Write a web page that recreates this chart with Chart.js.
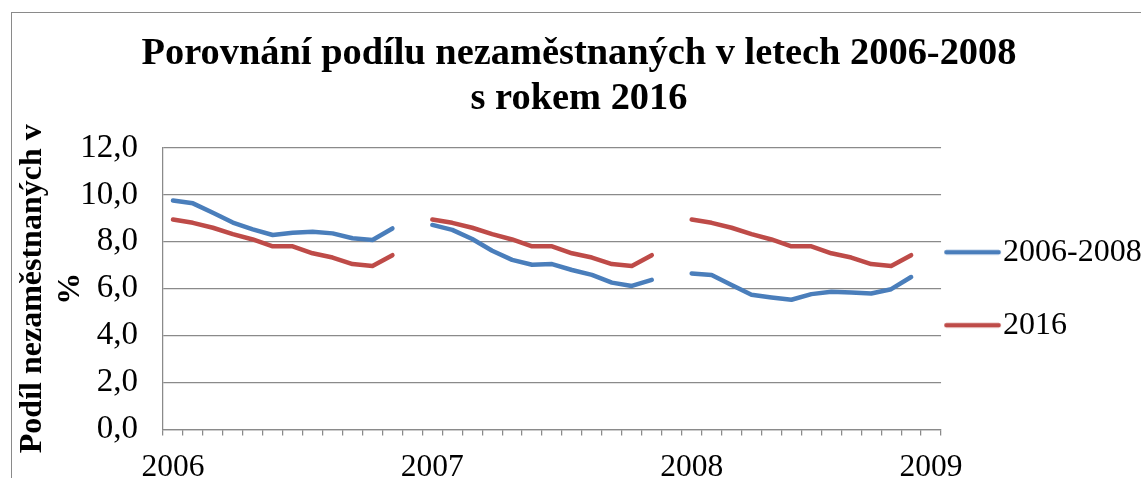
<!DOCTYPE html>
<html>
<head>
<meta charset="utf-8">
<script src="https://cdn.jsdelivr.net/npm/chart.js@4.4.1/dist/chart.umd.min.js"></script>
<style>
html, body { margin: 0; padding: 0; background: #ffffff; overflow: hidden; }
#frame { position: absolute; left: 11px; top: 12px; width: 1300px; height: 600px;
         border-left: 1px solid #8a8a8a; border-top: 1px solid #8a8a8a; }
#wrap { position: absolute; left: 0; top: 0; width: 1141px; height: 478px; }
</style>
</head>
<body>
<div id="frame"></div>
<div id="wrap"><canvas id="c" width="1141" height="478"></canvas></div>
<script>
// ---- data ----
const categories = [
  '2006', '', '', '', '', '', '', '', '', '', '', '', '',
  '2007', '', '', '', '', '', '', '', '', '', '', '', '',
  '2008', '', '', '', '', '', '', '', '', '', '', '',
  '2009'
];
const seriesNames = ['2006-2008', '2016'];
const rate2006 = [9.76, 9.64, 9.24, 8.82, 8.53, 8.29, 8.39, 8.43, 8.36, 8.15, 8.08, 8.57];
const rate2007 = [8.72, 8.51, 8.12, 7.62, 7.23, 7.02, 7.05, 6.80, 6.59, 6.26, 6.12, 6.38];
const rate2008 = [6.65, 6.59, 6.16, 5.74, 5.63, 5.53, 5.77, 5.87, 5.84, 5.80, 5.98, 6.50];
const rate2016 = [8.95, 8.81, 8.60, 8.33, 8.10, 7.81, 7.81, 7.51, 7.33, 7.05, 6.97, 7.43];
const yTickLabels = ['0,0', '2,0', '4,0', '6,0', '8,0', '10,0', '12,0'];
const titleLines = ['Porovnání podílu nezaměstnaných v letech 2006-2008', 's rokem 2016'];
const yTitleLines = ['Podíl nezaměstnaných v', '%'];

// one empty slot separates the years
const blueSeries = [...rate2006, null, ...rate2007, null, ...rate2008, null];
const redSeries  = [...rate2016, null, ...rate2016, null, ...rate2016, null];

const BLUE = '#4A7EBB';
const RED = '#BE4B48';
const GRID = '#8a8a8a';
const SERIF = "'Liberation Serif', 'Times New Roman', serif";

// legend line sample (drawn on the left part of a small canvas)
function lineSample(color) {
  const cv = document.createElement('canvas');
  cv.width = 81; cv.height = 8;
  const g = cv.getContext('2d');
  g.strokeStyle = color;
  g.lineWidth = 4.5;
  g.lineCap = 'round';
  g.beginPath();
  g.moveTo(2.4, 4);
  g.lineTo(54.6, 4);
  g.stroke();
  return cv;
}

new Chart(document.getElementById('c'), {
  type: 'line',
  data: {
    labels: categories,
    datasets: [
      { label: seriesNames[0], data: blueSeries, borderColor: BLUE, backgroundColor: BLUE,
        borderWidth: 4.5, pointRadius: 0, tension: 0, spanGaps: false,
        borderCapStyle: 'round', borderJoinStyle: 'round' },
      { label: seriesNames[1], data: redSeries, borderColor: RED, backgroundColor: RED,
        borderWidth: 4.5, pointRadius: 0, tension: 0, spanGaps: false,
        borderCapStyle: 'round', borderJoinStyle: 'round' }
    ]
  },
  options: {
    responsive: false,
    animation: false,
    events: [],
    layout: { padding: { left: 6.3, right: -10.7, top: 0, bottom: 0 } },
    plugins: {
      tooltip: { enabled: false },
      title: {
        display: true,
        text: titleLines,
        color: '#000',
        font: { family: SERIF, size: 38.4, weight: 'bold', lineHeight: 1.165 },
        padding: { top: 31.5, bottom: 27 }
      },
      legend: {
        position: 'right',
        align: 'center',
        fullSize: false,
        labels: {
          color: '#000',
          font: { family: SERIF, size: 32 },
          usePointStyle: true,
          pointStyleWidth: 5,
          padding: 41,
          generateLabels(chart) {
            const items = Chart.defaults.plugins.legend.labels.generateLabels(chart);
            items.forEach(it => { it.pointStyle = lineSample(it.strokeStyle); });
            return items;
          }
        }
      }
    },
    scales: {
      x: {
        type: 'category',
        offset: true,
        grid: { display: true, offset: true, drawOnChartArea: false, drawTicks: true,
                tickLength: 6, color: GRID, lineWidth: 1.25 },
        border: { display: true, color: GRID, width: 1.25 },
        ticks: { autoSkip: false, maxRotation: 0, minRotation: 0, padding: 13,
                 color: '#000', font: { family: SERIF, size: 31.5 } },
        afterFit(s) { s.height = 48.5; }
      },
      y: {
        min: 0, max: 12,
        grid: { drawTicks: false, color: GRID, lineWidth: 1.25 },
        border: { display: true, color: GRID, width: 1.25 },
        ticks: { stepSize: 2, padding: 25, color: '#000',
                 font: { family: SERIF, size: 33 },
                 callback: (v, i) => yTickLabels[i] },
        title: { display: true, text: yTitleLines, color: '#000',
                 font: { family: SERIF, size: 32, weight: 'bold', lineHeight: 1.2 },
                 padding: { top: 7, bottom: 0 } },
        afterFit(s) { s.width = 156.7; }
      }
    }
  }
});
</script>
</body>
</html>
